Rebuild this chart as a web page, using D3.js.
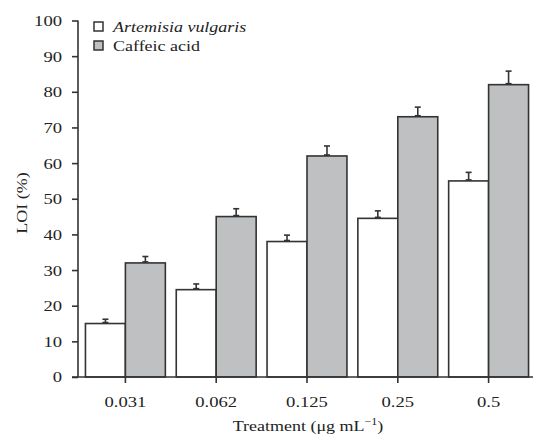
<!DOCTYPE html>
<html>
<head>
<meta charset="utf-8">
<script src="https://cdn.jsdelivr.net/npm/d3@7"></script>
<style>
  body { margin: 0; background: #fff; }
  text { font-family: "Liberation Serif", "DejaVu Serif", serif; fill: #222; }
</style>
</head>
<body>
<div id="chart"></div>
<script>
(function() {
  // data
  var treatments = ["0.031", "0.062", "0.125", "0.25", "0.5"];
  var seriesNames = ["Artemisia vulgaris", "Caffeic acid"];
  var artemisia = [15, 24.5, 38, 44.5, 55];
  var artemisiaErr = [1.2, 1.6, 1.8, 2.1, 2.4];
  var caffeic = [32, 45, 62, 73, 82];
  var caffeicErr = [1.8, 2.2, 2.8, 2.7, 3.8];
  var yTicks = [0, 10, 20, 30, 40, 50, 60, 70, 80, 90, 100];

  var width = 533, height = 436;
  var ink = "#333";
  var fills = ["#ffffff", "#bfc0c2"];
  var stretch = 1.2; // the original type is set wide

  var svg = d3.select("#chart")
    .append("svg")
    .attr("width", width)
    .attr("height", height);

  var xPositionScale = d3.scaleBand()
    .domain(treatments)
    .range([80, 534])
    .paddingInner(0.12)
    .paddingOuter(0.06);

  var xSub = d3.scaleBand()
    .domain(seriesNames)
    .range([0, xPositionScale.bandwidth()]);

  var yPositionScale = d3.scaleLinear()
    .domain([0, 100])
    .range([377, 20.5]);

  var rows = [];
  treatments.forEach(function(t, i) {
    rows.push({ t: t, s: 0, v: artemisia[i], e: artemisiaErr[i] });
    rows.push({ t: t, s: 1, v: caffeic[i], e: caffeicErr[i] });
  });

  // error bars (only upward)
  var eb = svg.append("g").attr("stroke", ink).attr("stroke-width", 1.6);
  rows.forEach(function(d) {
    var cx = xPositionScale(d.t) + xSub(seriesNames[d.s]) + xSub.bandwidth() / 2;
    var y0 = yPositionScale(d.v), y1 = yPositionScale(d.v + d.e);
    eb.append("line").attr("x1", cx).attr("x2", cx).attr("y1", y0).attr("y2", y1);
    eb.append("line").attr("x1", cx - 3).attr("x2", cx + 3).attr("y1", y1).attr("y2", y1);
    eb.append("line").attr("x1", cx - 3).attr("x2", cx + 3).attr("y1", y0 - 1).attr("y2", y0 - 1);
  });

  svg.append("g").selectAll("rect")
    .data(rows)
    .enter().append("rect")
    .attr("x", function(d) { return xPositionScale(d.t) + xSub(seriesNames[d.s]); })
    .attr("width", xSub.bandwidth())
    .attr("y", function(d) { return yPositionScale(d.v); })
    .attr("height", function(d) { return yPositionScale(0) - yPositionScale(d.v); })
    .attr("fill", function(d) { return fills[d.s]; })
    .attr("stroke", ink)
    .attr("stroke-width", 1.6);

  // axes
  var yAxis = d3.axisLeft(yPositionScale).tickValues(yTicks).tickSize(6).tickPadding(10);
  var yg = svg.append("g")
    .attr("transform", "translate(78,0)")
    .call(yAxis);
  yg.select(".domain").attr("d", "M0," + yPositionScale(100) + "V" + yPositionScale(0));
  yg.selectAll(".tick text")
    .attr("x", -16 / stretch)
    .attr("transform", "scale(" + stretch + ",1)");

  var xAxis = d3.axisBottom(xPositionScale).tickSize(6).tickPadding(13);
  var xg = svg.append("g")
    .attr("transform", "translate(0," + yPositionScale(0) + ")")
    .call(xAxis);
  xg.select(".domain").attr("d", "M72,0H533");
  xg.selectAll(".tick text")
    .attr("transform", "scale(" + stretch + ",1)");

  svg.selectAll(".tick line, .domain").attr("stroke", ink).attr("stroke-width", 1.6);
  svg.selectAll(".tick text")
    .attr("font-family", "Liberation Serif, serif")
    .attr("font-size", 15.5)
    .attr("fill", "#222");

  // axis titles
  svg.append("text")
    .attr("transform", "translate(27,203) rotate(-90) scale(" + stretch + ",1)")
    .attr("text-anchor", "middle")
    .attr("font-size", 15)
    .text("LOI (%)");

  var xt = svg.append("text")
    .attr("transform", "translate(308,431) scale(" + stretch + ",1)")
    .attr("text-anchor", "middle")
    .attr("font-size", 15);
  xt.append("tspan").text("Treatment (\u03bcg mL");
  xt.append("tspan").attr("dy", -6).attr("font-size", 10).text("\u22121");
  xt.append("tspan").attr("dy", 6).text(")");

  // legend
  var legend = svg.append("g").attr("transform", "translate(94,21)");
  seriesNames.forEach(function(name, i) {
    var g = legend.append("g").attr("transform", "translate(0," + (i * 19) + ")");
    g.append("rect")
      .attr("x", 0).attr("y", 1)
      .attr("width", 9).attr("height", 9)
      .attr("fill", fills[i])
      .attr("stroke", ink)
      .attr("stroke-width", 1.5);
    g.append("text")
      .attr("transform", "translate(19,10.5) scale(" + stretch + ",1)")
      .attr("font-size", 15)
      .attr("font-style", i === 0 ? "italic" : "normal")
      .text(name);
  });
})();
</script>
</body>
</html>
